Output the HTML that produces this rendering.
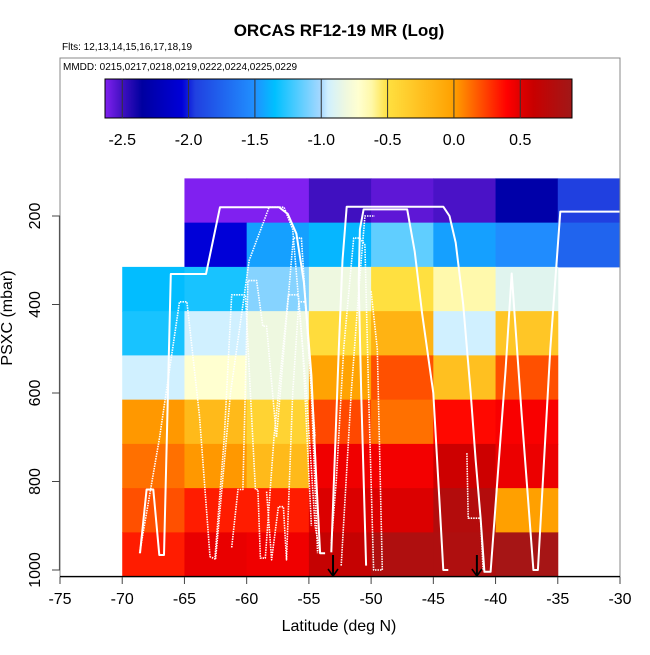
<!DOCTYPE html>
<html><head><meta charset="utf-8"><style>
html,body{margin:0;padding:0;background:#fff;}
svg text{font-family:"Liberation Sans",Arial,sans-serif;}
</style></head><body>
<svg id="chart" xmlns="http://www.w3.org/2000/svg" width="650" height="650" viewBox="0 0 650 650">
<rect width="650" height="650" fill="#fff"/>
<text x="339" y="36" text-anchor="middle" font-size="17" font-weight="bold">ORCAS RF12-19 MR (Log)</text>
<text x="62" y="50" font-size="10">Flts: 12,13,14,15,16,17,18,19</text>
<g id="cells"></g>
<g id="tracks"></g>
<g id="arrows"></g>
<rect x="60" y="58" width="560" height="519" fill="none" stroke="#888" stroke-width="1"/>
<text x="63" y="70" font-size="10">MMDD: 0215,0217,0218,0219,0222,0224,0225,0229</text>
<defs><linearGradient id="cbg" x1="0" x2="1" y1="0" y2="0"></linearGradient></defs>
<g id="colorbar"></g>
<g id="xaxis"></g>
<g id="yaxis"></g>
<text x="339" y="631" text-anchor="middle" font-size="16">Latitude (deg N)</text>
<text transform="translate(12,318) rotate(-90)" text-anchor="middle" font-size="16">PSXC (mbar)</text>
</svg>
<script>
// ---- data ----
const latEdges = [-70,-65,-60,-55,-50,-45,-40,-35,-30];
const presEdges = [115,215,315,415,515,615,715,815,915,1015];
const row0 = [null,-2.63,-2.63,-2.5,-2.56,-2.52,-2.3,-1.95];
const row1 = [null,-2.05,-1.45,-1.38,-1.15,-1.45,-1.52,-1.75];
const row2 = [-1.36,-1.3,-1.07,-0.82,-0.5,-0.63,-0.88,null];
const row3 = [-1.3,-0.95,-0.82,-0.47,-0.15,-0.95,-0.3,null];
const row4 = [-0.95,-0.72,-0.82,-0.02,0.2,-0.25,0.2,null];
const row5 = [0.02,-0.2,-0.4,0.22,0.12,0.38,0.42,null];
const row6 = [0.12,0.02,-0.2,0.45,0.44,0.58,0.46,null];
const row7 = [0.2,0.33,0.33,0.52,0.52,0.75,0.0,null];
const row8 = [0.33,0.47,0.45,0.62,0.78,0.78,0.85,null];
const rows = [row0,row1,row2,row3,row4,row5,row6,row7,row8];
const xTicks = [-75,-70,-65,-60,-55,-50,-45,-40,-35,-30];
const yTicks = [200,400,600,800,1000];
const cbTicks = [-2.5,-2.0,-1.5,-1.0,-0.5,0.0,0.5];
const cbRange = [-2.63,0.89];
const arrowLats = [-53.06,-41.5];
const trackS1 = [[-68.57,962],[-68.04,818],[-67.5,818],[-67.02,966],[-66.64,966],[-66.1,331],[-63.27,331],[-62.14,180],[-57.4,180],[-56.7,195],[-56.0,240],[-55.4,350],[-54.8,560],[-54.4,800],[-54.1,962],[-53.7,962]];
const trackS2 = [[-53.2,960],[-52.6,500],[-52.3,300],[-51.96,179],[-44.2,179],[-43.7,200],[-43.2,260],[-42.6,400],[-42.0,600],[-41.6,750],[-41.2,883],[-40.9,1004],[-40.4,1004],[-39.2,550],[-38.7,330],[-37.9,650],[-36.96,1000],[-36.6,1000],[-35.6,500],[-34.8,190],[-30,190]];
const trackS3 = [[-50.4,990],[-50.8,600],[-51.0,350],[-50.9,230],[-50.6,185],[-47.1,185],[-46.5,280],[-45.9,420],[-45,600],[-44.5,850],[-44.2,1000],[-43.8,1000]];
const trackD1 = [[-68.6,962],[-67,700],[-65.4,394],[-64.8,394],[-63.8,650],[-62.95,970],[-62.55,975],[-61.8,700],[-61.2,378],[-60.1,378],[-59.7,600],[-59.3,818],[-59.1,818],[-58.9,973],[-58.5,973],[-57.8,700],[-56.65,378],[-55.85,378],[-55.2,600],[-54.5,900],[-54.1,962]];
const trackD2 = [[-61.2,949],[-60.7,818],[-60.3,818],[-59.9,346],[-59.2,346],[-58.7,449],[-58.4,449],[-57.6,700],[-56.25,250],[-55.6,250],[-54.8,600],[-54.3,962]];
const trackD3 = [[-62.5,975],[-61.3,600],[-59.8,300],[-58.2,180],[-57,180],[-56.3,230],[-55.5,500],[-54.8,900]];
const trackD4 = [[-58.4,823],[-58.0,977],[-57.45,857],[-57.05,857],[-56.8,977],[-56.3,600],[-55.8,394],[-55.3,394],[-54.5,700]];
const trackD5 = [[-53.2,940],[-52.8,797],[-52.2,500],[-51.4,250],[-50.9,250],[-50.5,265],[-50.2,600],[-49.8,1000],[-49.1,1000],[-49.5,500],[-50.0,370]];
const trackD6 = [[-52.4,990],[-51.6,600],[-51.0,370],[-50.5,200],[-49.7,200]];
const trackD7 = [[-42.3,736],[-42.2,883],[-41.2,883],[-41.0,1000]];

// ---- scales ----
const NS="http://www.w3.org/2000/svg";
function xs(lat){return 60+(lat+75)*560/45;}
function ys(p){return 216+(p-200)*0.4425;}
function cbx(v){return 105+(v-cbRange[0])*(572-105)/(cbRange[1]-cbRange[0]);}
const stops=[[-2.63,[128,32,240]],[-2.5,[64,16,192]],[-2.35,[0,0,160]],[-2.05,[0,0,216]],[-1.95,[32,64,224]],[-1.5,[32,144,255]],[-1.35,[0,192,255]],[-1.0,[168,216,255]],[-0.95,[208,240,255]],[-0.82,[238,248,224]],[-0.72,[255,255,208]],[-0.62,[255,248,168]],[-0.5,[255,224,64]],[0,[255,160,0]],[0.2,[255,80,0]],[0.4,[255,0,0]],[0.5,[224,0,0]],[0.6,[200,0,0]],[0.89,[160,24,24]]];
function col(v){
  if(v<=stops[0][0]) return rgb(stops[0][1]);
  for(let i=1;i<stops.length;i++){
    if(v<=stops[i][0]){const a=stops[i-1],b=stops[i];const t=(v-a[0])/(b[0]-a[0]);
      return rgb(a[1].map((c,k)=>c+(b[1][k]-c)*t));}
  }
  return rgb(stops[stops.length-1][1]);
}
function rgb(c){return "rgb("+c.map(Math.round).join(",")+")";}
function mk(tag,attrs,parent){const e=document.createElementNS(NS,tag);for(const k in attrs)e.setAttribute(k,attrs[k]);parent.appendChild(e);return e;}

// ---- heatmap ----
const cells=document.getElementById('cells');
rows.forEach((r,ri)=>{r.forEach((v,ci)=>{
  if(v===null) return;
  const x0=xs(latEdges[ci]),x1=xs(latEdges[ci+1]),y0=ys(presEdges[ri]),y1=ys(presEdges[ri+1]);
  const e=mk('rect',{x:x0,y:y0,width:x1-x0+0.5,height:y1-y0+0.5,fill:col(v)},cells);
  
  
});});

// ---- tracks ----
const tg=document.getElementById('tracks');
function drawTrack(pts,dotted,name){
  const e=mk('polyline',{points:pts.map(p=>xs(p[0]).toFixed(1)+","+ys(p[1]).toFixed(1)).join(" "),fill:"none",stroke:"#fff","stroke-width":dotted?1.6:2,"stroke-linejoin":"round"},tg);
  if(dotted) e.setAttribute('stroke-dasharray','1.5 1');
  
  
}
drawTrack(trackS1,false,'flight-track-1');
drawTrack(trackS2,false,'flight-track-2');
drawTrack(trackS3,false,'flight-track-3');
drawTrack(trackD1,true,'flight-track-4');
drawTrack(trackD2,true,'flight-track-5');
drawTrack(trackD3,true,'flight-track-6');
drawTrack(trackD4,true,'flight-track-7');
drawTrack(trackD5,true,'flight-track-8');
drawTrack(trackD6,true,'flight-track-9');
drawTrack(trackD7,true,'flight-track-10');

// ---- arrows ----
const ag=document.getElementById('arrows');
arrowLats.forEach(l=>{
  const x=xs(l);
  const g=mk('g',{},ag);
  
  
  mk('line',{x1:x,y1:555,x2:x,y2:576,stroke:"#000","stroke-width":2},g);
  mk('polyline',{points:(x-5)+",569 "+x+",576 "+(x+5)+",569",fill:"none",stroke:"#000","stroke-width":1.6},g);
});

// ---- colorbar ----
const grad=document.getElementById('cbg');
stops.forEach(s=>{const t=(s[0]-cbRange[0])/(cbRange[1]-cbRange[0]);mk('stop',{offset:t,'stop-color':rgb(s[1])},grad);});
const cb=document.getElementById('colorbar');
const cbr=mk('rect',{x:105,y:79,width:467,height:39,fill:"url(#cbg)",stroke:"#000","stroke-width":1},cb);


cbTicks.forEach(v=>{
  const x=cbx(v);
  mk('line',{x1:x,y1:79,x2:x,y2:118,stroke:"#333","stroke-width":1},cb);
  const t=mk('text',{x:x,y:145,'text-anchor':'middle','font-size':16},cb);
  t.textContent=v.toFixed(1);
  
  
});

// ---- axes ----
const xa=document.getElementById('xaxis');
mk('line',{x1:60,y1:576.5,x2:620,y2:576.5,stroke:"#000","stroke-width":1.2},xa);
xTicks.forEach(v=>{
  const x=xs(v);
  mk('line',{x1:x,y1:577,x2:x,y2:584,stroke:"#444","stroke-width":1},xa);
  const t=mk('text',{x:x,y:604,'text-anchor':'middle','font-size':16},xa);
  t.textContent=v;
  
  
});
const ya=document.getElementById('yaxis');
mk('line',{x1:59.5,y1:ys(200),x2:59.5,y2:ys(1000),stroke:"#555","stroke-width":1.2},ya);
yTicks.forEach(v=>{
  const y=ys(v);
  mk('line',{x1:52,y1:y,x2:60,y2:y,stroke:"#444","stroke-width":1},ya);
  const t=mk('text',{transform:"translate(40,"+y+") rotate(-90)",'text-anchor':'middle','font-size':16},ya);
  t.textContent=v;
  
  
});
</script>
</body></html>
